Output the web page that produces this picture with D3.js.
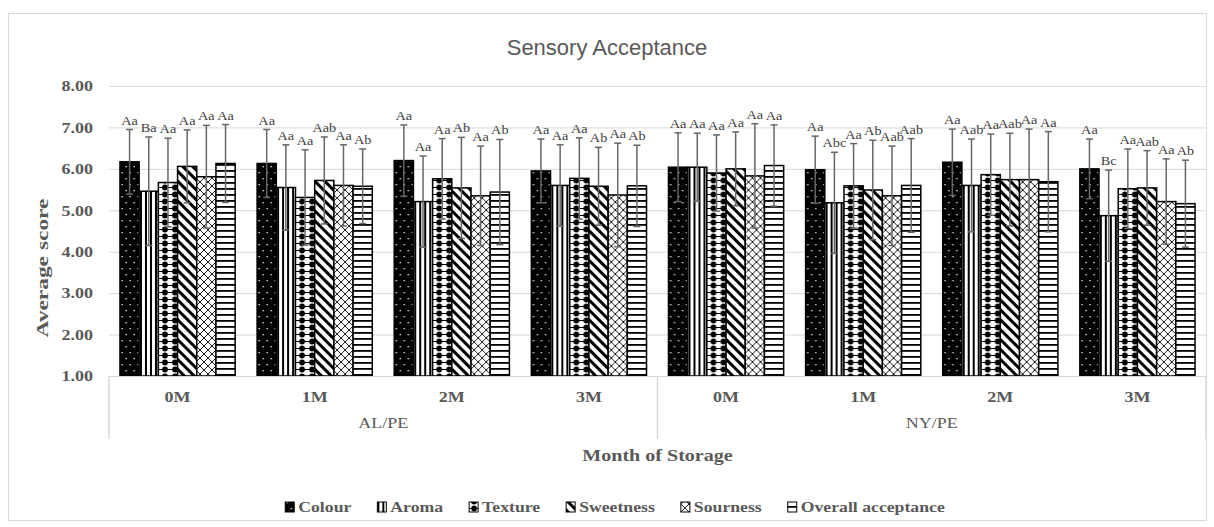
<!DOCTYPE html>
<html>
<head>
<meta charset="utf-8">
<script src="https://cdn.jsdelivr.net/npm/d3@7"></script>
<style>
  body { margin: 0; background: #fff; }
  text { font-family: "Liberation Serif", "Times New Roman", serif; }
</style>
</head>
<body>
<div id="chart"></div>
<script>
// months and packaging (two level category axis)
const months = ["0M", "1M", "2M", "3M"];
const packaging = ["AL/PE", "NY/PE"];
const series = ["Colour", "Aroma", "Texture", "Sweetness", "Sourness", "Overall acceptance"];

// mean scores, AL/PE 0M..3M then NY/PE 0M..3M
const colour    = [6.17, 6.13, 6.20, 5.95, 6.04, 5.98, 6.16, 6.00];
const aroma     = [5.46, 5.55, 5.21, 5.60, 6.04, 5.18, 5.60, 4.87];
const texture   = [5.67, 5.31, 5.76, 5.77, 5.90, 5.59, 5.86, 5.52];
const sweetness = [6.06, 5.72, 5.54, 5.58, 6.00, 5.49, 5.74, 5.54];
const sourness  = [5.81, 5.60, 5.35, 5.37, 5.83, 5.35, 5.74, 5.21];
const overall   = [6.13, 5.58, 5.44, 5.59, 6.08, 5.60, 5.69, 5.16];

// standard deviations (error bars)
const colourSd    = [0.78, 0.82, 0.86, 0.77, 0.83, 0.81, 0.80, 0.72];
const aromaSd     = [1.31, 1.03, 1.10, 0.98, 0.82, 1.22, 1.12, 1.10];
const textureSd   = [1.07, 1.15, 0.97, 0.98, 0.92, 1.02, 0.98, 0.96];
const sweetnessSd = [0.88, 1.05, 1.22, 0.94, 0.89, 1.20, 1.12, 0.90];
const sournessSd  = [1.24, 0.98, 1.20, 1.25, 1.26, 1.20, 1.22, 1.03];
const overallSd   = [0.94, 0.90, 1.27, 0.98, 0.98, 1.13, 1.21, 1.05];

// significance letters
const colourLbl    = ["Aa", "Aa", "Aa", "Aa", "Aa", "Aa", "Aa", "Aa"];
const aromaLbl     = ["Ba", "Aa", "Aa", "Aa", "Aa", "Abc", "Aab", "Bc"];
const textureLbl   = ["Aa", "Aa", "Aa", "Aa", "Aa", "Aa", "Aa", "Aa"];
const sweetnessLbl = ["Aa", "Aab", "Ab", "Ab", "Aa", "Ab", "Aab", "Aab"];
const sournessLbl  = ["Aa", "Aa", "Aa", "Aa", "Aa", "Aab", "Aa", "Aa"];
const overallLbl   = ["Aa", "Ab", "Ab", "Ab", "Aa", "Aab", "Aa", "Ab"];

const yTicks = [1, 2, 3, 4, 5, 6, 7, 8];

const means = [colour, aroma, texture, sweetness, sourness, overall];
const sds = [colourSd, aromaSd, textureSd, sweetnessSd, sournessSd, overallSd];
const lbls = [colourLbl, aromaLbl, textureLbl, sweetnessLbl, sournessLbl, overallLbl];

// categories = pack|month
const cats = [];
packaging.forEach(p => months.forEach(m => cats.push(p + "|" + m)));

const data = [];
cats.forEach((c, i) => {
  series.forEach((s, j) => {
    data.push({cat: c, key: s, idx: j, value: means[j][i], sd: sds[j][i], lbl: lbls[j][i]});
  });
});

// the source text is drawn a bit wider than normal
function stretch(sel, k) {
  sel.each(function() {
    let L = this.getComputedTextLength();
    d3.select(this).attr("textLength", L * k).attr("lengthAdjust", "spacingAndGlyphs");
  });
}

const W = 1214, H = 527;
const margin = {top: 86, right: 8, bottom: 151, left: 109},
      width = 1206 - margin.left,
      height = 376 - margin.top;

const root = d3.select("#chart").append("svg")
  .attr("width", W).attr("height", H);

// patterns
const defs = root.append("defs");
const pat = (id, w, h) => defs.append("pattern").attr("id", id)
  .attr("patternUnits", "userSpaceOnUse").attr("width", w).attr("height", h);

let p0 = pat("p0", 8, 12);
p0.append("rect").attr("width", 8).attr("height", 12).attr("fill", "#000");
p0.append("rect").attr("x", 1.5).attr("y", 2).attr("width", 1.3).attr("height", 1.3).attr("fill", "#fff");
p0.append("rect").attr("x", 5.5).attr("y", 8).attr("width", 1.3).attr("height", 1.3).attr("fill", "#fff");

let p1 = pat("p1", 5, 5);
p1.append("rect").attr("width", 5).attr("height", 5).attr("fill", "#fff");
p1.append("rect").attr("width", 2).attr("height", 5).attr("fill", "#000");

let p2 = pat("p2", 10, 7);
p2.append("rect").attr("width", 10).attr("height", 7).attr("fill", "#fff");
p2.append("line").attr("x1", 0).attr("x2", 10).attr("y1", 3.5).attr("y2", 3.5).attr("stroke", "#000").attr("stroke-width", 1);
p2.append("circle").attr("cx", 5).attr("cy", 3.5).attr("r", 2.9).attr("fill", "#000");

let p3 = pat("p3", 7, 7).attr("patternTransform", "rotate(-45)");
p3.append("rect").attr("width", 7).attr("height", 7).attr("fill", "#fff");
p3.append("rect").attr("width", 3).attr("height", 7).attr("fill", "#000");

let p4 = pat("p4", 8, 8);
p4.append("rect").attr("width", 8).attr("height", 8).attr("fill", "#fff");
p4.append("path").attr("d", "M0,0L8,8M8,0L0,8").attr("stroke", "#000").attr("stroke-width", 0.9);

let p5 = pat("p5", 6, 6);
p5.append("rect").attr("width", 6).attr("height", 6).attr("fill", "#fff");
p5.append("rect").attr("y", 0).attr("width", 6).attr("height", 1.8).attr("fill", "#000");

// chart border
root.append("rect")
  .attr("x", 8.5).attr("y", 13.5).attr("width", 1198).attr("height", 507)
  .attr("fill", "none").attr("stroke", "#d9d9d9");

// title
root.append("text")
  .attr("x", 607).attr("y", 55)
  .attr("text-anchor", "middle")
  .style("font-family", "'Liberation Sans', Arial, sans-serif")
  .style("font-size", "22px")
  .attr("fill", "#595959")
  .text("Sensory Acceptance");

let svg = root.append("g")
  .attr("transform", "translate(" + margin.left + "," + margin.top + ")");

// scales
let x0 = d3.scaleBand().domain(cats).range([0, width]).paddingInner(0.16).paddingOuter(0.08);
let x1 = d3.scaleBand().domain(series).range([0, x0.bandwidth()]);
let y = d3.scaleLinear().domain([1, 8]).range([height, 0]);

// gridlines + y labels
let yAxis = svg.append("g")
  .call(d3.axisLeft(y).tickValues(yTicks).tickFormat(d3.format(".2f")).tickSize(-width).tickPadding(16));
yAxis.select(".domain").remove();
yAxis.selectAll(".tick line").attr("stroke", "#d9d9d9");
yAxis.selectAll(".tick text")
  .attr("fill", "#595959")
  .style("font-family", "'Liberation Serif', serif")
  .style("font-size", "15px").style("font-weight", "bold")
  .call(stretch, 1.2);

// y title
svg.append("text")
  .attr("transform", "translate(" + (-61) + "," + 182 + ") rotate(-90)")
  .attr("text-anchor", "middle")
  .style("font-size", "17px").style("font-weight", "bold")
  .attr("fill", "#595959")
  .attr("textLength", 139).attr("lengthAdjust", "spacingAndGlyphs")
  .text("Average score");

// bars
let groups = svg.append("g").selectAll("g")
  .data(cats).enter().append("g")
  .attr("transform", d => "translate(" + x0(d) + ",0)");

groups.selectAll("rect")
  .data(c => data.filter(d => d.cat === c))
  .enter().append("rect")
  .attr("x", d => x1(d.key))
  .attr("y", d => y(d.value))
  .attr("width", x1.bandwidth())
  .attr("height", d => y(1) - y(d.value))
  .attr("fill", d => "url(#p" + d.idx + ")")
  .attr("stroke", "#000")
  .attr("stroke-width", 1.5);

// error bars
let eb = groups.selectAll(".err")
  .data(c => data.filter(d => d.cat === c))
  .enter().append("g").attr("class", "err")
  .attr("transform", d => "translate(" + (x1(d.key) + x1.bandwidth() / 2) + ",0)");
eb.append("line")
  .attr("y1", d => y(d.value - d.sd)).attr("y2", d => y(d.value + d.sd))
  .attr("stroke", "#666").attr("stroke-width", 1.5);
eb.append("line")
  .attr("x1", -3.5).attr("x2", 3.5)
  .attr("y1", d => y(d.value + d.sd)).attr("y2", d => y(d.value + d.sd))
  .attr("stroke", "#666").attr("stroke-width", 1.5);
eb.append("line")
  .attr("x1", -3.5).attr("x2", 3.5)
  .attr("y1", d => y(d.value - d.sd)).attr("y2", d => y(d.value - d.sd))
  .attr("stroke", "#666").attr("stroke-width", 1.5);
eb.append("text")
  .attr("y", d => y(d.value + d.sd) - 5)
  .attr("text-anchor", "middle")
  .style("font-size", "13px")
  .attr("fill", "#404040")
  .text(d => d.lbl)
  .call(stretch, 1.1);

// x axis line
svg.append("line")
  .attr("x1", 0).attr("x2", width).attr("y1", height + 0.5).attr("y2", height + 0.5)
  .attr("stroke", "#d9d9d9");

// category dividers
const half = x0.step() * months.length;
[0, half, width].forEach(v => {
  svg.append("line")
    .attr("x1", v).attr("x2", v).attr("y1", height).attr("y2", height + 63)
    .attr("stroke", "#d9d9d9").attr("stroke-width", 1.5);
});

// month labels
svg.append("g").selectAll("text")
  .data(cats).enter().append("text")
  .attr("x", d => x0(d) + x0.bandwidth() / 2)
  .attr("y", height + 26)
  .attr("text-anchor", "middle")
  .style("font-size", "15px").style("font-weight", "bold")
  .attr("fill", "#595959")
  .text(d => d.split("|")[1])
  .call(stretch, 1.2);

// packaging labels
svg.append("g").selectAll("text")
  .data(packaging).enter().append("text")
  .attr("x", (d, i) => half * i + half / 2)
  .attr("y", height + 52)
  .attr("text-anchor", "middle")
  .style("font-size", "15px")
  .attr("fill", "#595959")
  .text(d => d)
  .call(stretch, 1.2);

// x title
svg.append("text")
  .attr("x", width / 2).attr("y", height + 85)
  .attr("text-anchor", "middle")
  .style("font-size", "17px").style("font-weight", "bold")
  .attr("fill", "#595959")
  .text("Month of Storage")
  .call(stretch, 1.18);

// legend
let legend = root.append("g").attr("class", "legend");
let lx = 0;
series.forEach((s, i) => {
  let e = legend.append("g").attr("transform", "translate(" + lx + ",0)");
  e.append("rect").attr("x", 0).attr("y", -10).attr("width", 9).attr("height", 10)
    .attr("fill", "url(#p" + i + ")").attr("stroke", "#000").attr("stroke-width", 1);
  let t = e.append("text").attr("x", 13).attr("y", 0)
    .style("font-size", "15px").style("font-weight", "bold")
    .attr("fill", "#595959").text(s)
    .call(stretch, 1.18);
  lx += 13 + (+t.attr("textLength")) + 26;
});
lx -= 26;
legend.attr("transform", "translate(" + (615 - lx / 2) + ",512)");
</script>
</body>
</html>
